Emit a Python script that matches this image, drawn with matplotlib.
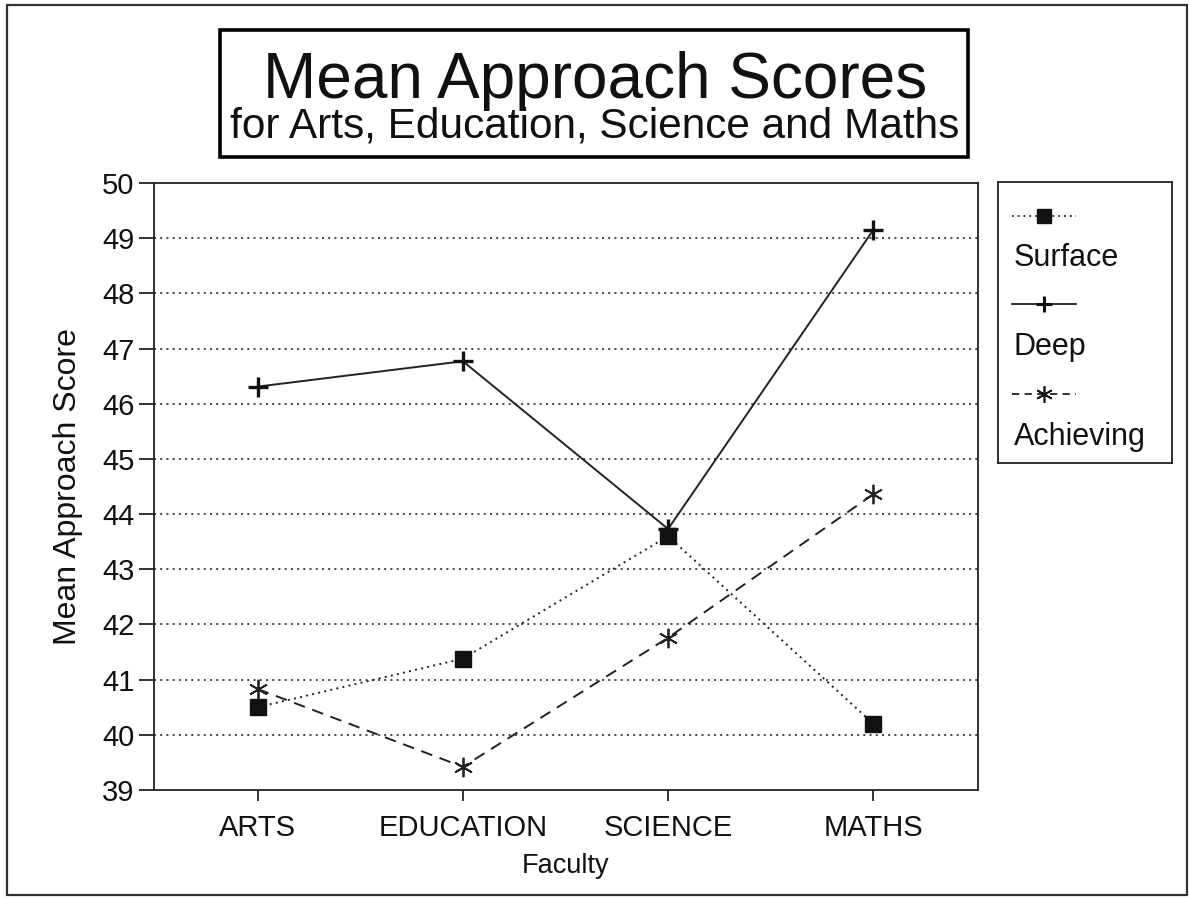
import matplotlib.pyplot as plt
from matplotlib.patches import Rectangle
from matplotlib.lines import Line2D

# data
faculties = ["ARTS", "EDUCATION", "SCIENCE", "MATHS"]
surface = [40.50, 41.38, 43.60, 40.20]
deep = [46.31, 46.77, 43.73, 49.15]
achieving = [40.83, 39.42, 41.76, 44.36]
yticks = list(range(39, 51))

plt.rcParams.update({
    "font.family": ["Liberation Sans", "DejaVu Sans"],
    "axes.linewidth": 1.3,
})

fig = plt.figure(figsize=(11.89, 8.98), dpi=100)
fig.patch.set_facecolor("white")

# outer frame round the whole picture
fig.add_artist(Rectangle((7 / 1189, 1 - 895 / 898), 1180 / 1189, 890 / 898,
                         transform=fig.transFigure, fill=False,
                         edgecolor="#333333", linewidth=1.6))

# title box
fig.add_artist(Rectangle((220 / 1189, 1 - 157 / 898), 748 / 1189, 127 / 898,
                         transform=fig.transFigure, fill=False,
                         edgecolor="black", linewidth=2.6))
fig.text(595 / 1189, 1 - 98 / 898, "Mean Approach Scores", ha="center",
         va="baseline", fontsize=46, color="#111111")
fig.text(595 / 1189, 1 - 138 / 898, "for Arts, Education, Science and Maths",
         ha="center", va="baseline", fontsize=30.5, color="#111111")

ax = fig.add_axes([154 / 1189, 1 - 790 / 898, 824 / 1189, 607 / 898])
x = list(range(len(faculties)))

for v in range(40, 50):
    ax.axhline(v, color="#444444", linestyle=(0, (1, 2.2)), linewidth=1.4,
               zorder=1)

ax.plot(x, surface, color="#222222", linestyle=(0, (1, 2.2)), linewidth=1.4,
        marker="s", markersize=12, markerfacecolor="#111111",
        markeredgecolor="#111111", zorder=3)
ax.plot(x, deep, color="#222222", linestyle="-", linewidth=1.4,
        marker="+", markersize=15, markeredgewidth=2.4,
        markeredgecolor="#111111", zorder=4)
ax.plot(x, achieving, color="#222222", linestyle=(0, (6, 4)), linewidth=1.4,
        marker=(6, 2, 0), markersize=14, markeredgewidth=1.3,
        markeredgecolor="#222222", zorder=3)

ax.set_xlim(-0.505, 3.51)
ax.set_ylim(39, 50)
ax.set_yticks(yticks)
ax.set_xticks(x)
ax.set_xticklabels(faculties)
ax.tick_params(axis="y", direction="out", length=11, width=1.2, pad=3,
               labelsize=21, colors="#111111")
ax.tick_params(axis="x", direction="out", length=8, width=1.2, pad=9,
               labelsize=21, colors="#111111")
ax.set_xlabel("Faculty", fontsize=19.5, labelpad=8, color="#111111")
ax.set_ylabel("Mean Approach Score", fontsize=23, labelpad=14,
              color="#111111")
for sp in ax.spines.values():
    sp.set_color("#222222")

# legend box, label under each sample line
lax = fig.add_axes([998 / 1189, 1 - 463 / 898, 174 / 1189, 281 / 898])
lax.set_xlim(998, 1172)
lax.set_ylim(463, 182)
lax.set_xticks([])
lax.set_yticks([])
for sp in lax.spines.values():
    sp.set_color("#222222")
    sp.set_linewidth(1.3)

entries = [
    ("Surface", (0, (1, 2.2)), "s", 216, 266, dict(markersize=10, markerfacecolor="#111111")),
    ("Deep", "-", "+", 304, 355, dict(markersize=12, markeredgewidth=2.2)),
    ("Achieving", (0, (4, 3)), (6, 2, 0), 394, 445, dict(markersize=12, markeredgewidth=1.2)),
]
for name, ls, mk, yl, yt, mkw in entries:
    lax.add_line(Line2D([1012, 1076], [yl, yl], color="#222222",
                        linestyle=ls, linewidth=1.3))
    lax.add_line(Line2D([1044], [yl], marker=mk, color="#111111",
                        linestyle="none", **mkw))
    lax.text(1014, yt, name, fontsize=22, va="baseline", ha="left",
             color="#111111")

fig.savefig("out.png", dpi=100, facecolor="white")
